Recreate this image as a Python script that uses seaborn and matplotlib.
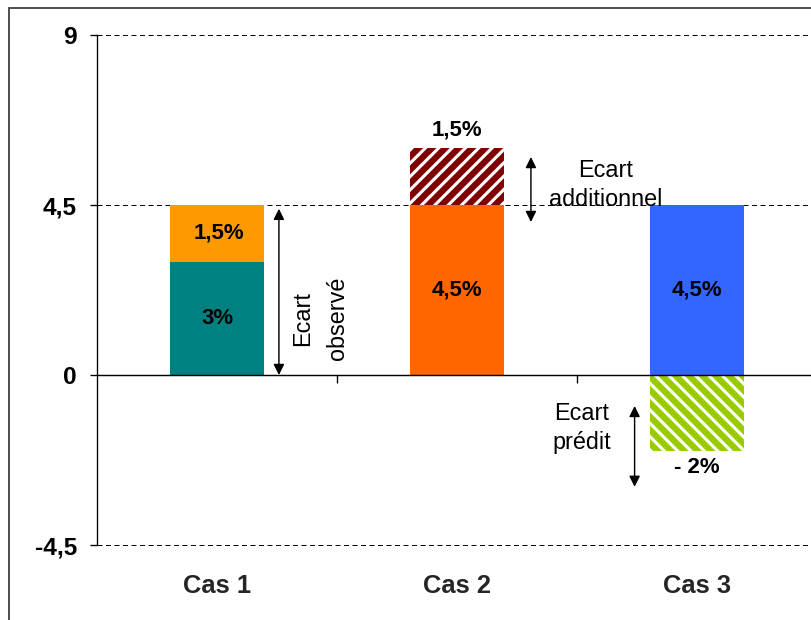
import matplotlib
matplotlib.use("Agg")
import matplotlib.pyplot as plt
from matplotlib.patches import Rectangle
import seaborn as sns

# ---- data ----
cases = ["Cas 1", "Cas 2", "Cas 3"]
base_values = [3.0, 4.5, 4.5]
extra_values = [1.5, 1.5, -2.0]
base_labels = ["3%", "4,5%", "4,5%"]
extra_labels = ["1,5%", "1,5%", "- 2%"]
base_colors = ["#008080", "#FF6600", "#3366FF"]
extra_colors = ["#FF9900", "#800000", "#99CC00"]
extra_hatches = [None, "//", "\\\\"]
y_ticks = [-4.5, 0, 4.5, 9]
y_ticklabels = ["-4,5", "0", "4,5", "9"]

DPI = 80
sns.set_style("white")
plt.rcParams["font.family"] = ["Liberation Sans", "DejaVu Sans"]
plt.rcParams["hatch.linewidth"] = 2.8

fig = plt.figure(figsize=(811 / DPI, 620 / DPI), dpi=DPI)
ax = fig.add_axes([97 / 811, 1 - 545 / 620, 720 / 811, 510 / 620])

# stacked tops (positive extras stack on base; negative extras go below zero)
top_values = [b + e if e > 0 else e for b, e in zip(base_values, extra_values)]

sns.barplot(x=cases, y=top_values, hue=cases, palette=extra_colors, order=cases,
            hue_order=cases, width=0.39, saturation=1, dodge=False, legend=False,
            ax=ax, zorder=3)
n_extra = len(ax.patches)
sns.barplot(x=cases, y=base_values, hue=cases, palette=base_colors, order=cases,
            hue_order=cases, width=0.39, saturation=1, dodge=False, legend=False,
            ax=ax, zorder=4)

for i, p in enumerate(ax.patches):
    p.set_linewidth(0)
    if i < n_extra:
        idx = int(round(p.get_x() + p.get_width() / 2))
        h = extra_hatches[idx]
        if h:
            p.set_hatch(h)
            p.set_edgecolor("white")
            p.set_linewidth(0)

ax.set_xlim(-0.5, 2.5)
ax.set_ylim(-4.5, 9)

# bar labels
lab_kw = dict(ha="center", va="center", fontsize=20, fontweight="bold", color="black", zorder=6)
for i, (b, e) in enumerate(zip(base_values, extra_values)):
    ax.text(i, b / 2, base_labels[i], **lab_kw)
    if i == 0:
        ax.text(i + 0.01, b + e / 2, extra_labels[i], **lab_kw)
    elif e > 0:
        ax.text(i, b + e + 0.48, extra_labels[i], **lab_kw)
    else:
        ax.text(i, e - 0.46, extra_labels[i], **lab_kw)

# arrows and annotations
arrow_kw = dict(arrowstyle="<|-|>", color="black", lw=1.3, mutation_scale=20,
                shrinkA=0, shrinkB=0)
ax.annotate("", xy=(0.258, 4.4), xytext=(0.258, 0.0), arrowprops=arrow_kw, zorder=7)
ax.annotate("", xy=(1.308, 5.77), xytext=(1.308, 4.05), arrowprops=arrow_kw, zorder=7)
ax.annotate("", xy=(1.74, -0.82), xytext=(1.74, -2.96), arrowprops=arrow_kw, zorder=7)

ann_kw = dict(ha="center", va="center", fontsize=21, color="black", multialignment="center",
              zorder=7)
ax.text(0.43, 1.5, "Ecart\nobservé", rotation=90, linespacing=1.65, **ann_kw)
ax.text(1.62, 5.03, "Ecart\nadditionnel", linespacing=1.3, **ann_kw)
ax.text(1.52, -1.4, "Ecart\nprédit", linespacing=1.3, **ann_kw)

# axes styling
for s in ["top", "right"]:
    ax.spines[s].set_visible(False)
ax.spines["left"].set_color("black")
ax.spines["left"].set_linewidth(1.2)
ax.spines["bottom"].set_position(("data", 0))
ax.spines["bottom"].set_color("black")
ax.spines["bottom"].set_linewidth(1.3)
ax.spines["bottom"].set_zorder(5)

ax.set_yticks(y_ticks, labels=y_ticklabels)
ax.tick_params(axis="y", direction="out", length=6, width=1.2, pad=12, left=True,
               labelsize=22, colors="black")
for t in ax.get_yticklabels():
    t.set_fontweight("bold")

ax.set_xticks([0.5, 1.5], labels=[])
ax.tick_params(axis="x", direction="out", length=7, width=1.2, bottom=True, colors="black")
ax.set_xlabel("")
ax.set_ylabel("")

# dashed horizontal gridlines
ax.grid(False)
for yv in y_ticks:
    if yv != 0:
        ax.axhline(yv, color="black", linestyle=(0, (5, 3.5)), linewidth=0.9,
                   zorder=1, clip_on=False)

sec = ax.secondary_xaxis("bottom")
sec.set_xticks(range(len(cases)), labels=cases)
sec.tick_params(length=0, pad=26, labelsize=23)
for t in sec.get_xticklabels():
    t.set_fontweight("bold")
sec.spines["bottom"].set_visible(False)

# outer frame
fig.add_artist(Rectangle((8.5 / 811, -0.1), 1.2, 1 - 8.5 / 620 + 0.1, transform=fig.transFigure,
                         fill=False, edgecolor="#3c3c3c", linewidth=1.6))

fig.savefig("out.png", dpi=DPI)
